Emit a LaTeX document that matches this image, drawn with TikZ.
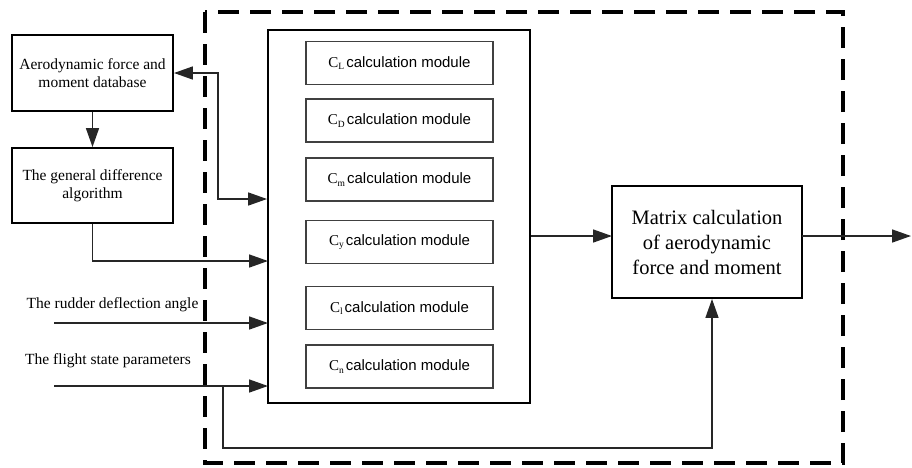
\documentclass[tikz,border=0pt]{standalone}
\usepackage{fontspec}
\setmainfont{Liberation Serif}
\setsansfont{Liberation Sans}
\usetikzlibrary{arrows.meta}
\newcommand{\subsc}[1]{\raisebox{-2.2pt}{\fontsize{9.5}{9.5}\selectfont #1}}
\newcommand{\modtext}[1]{\rmfamily C\subsc{#1}\hspace{2pt}\sffamily calculation module}
\begin{document}
\begin{tikzpicture}[x=1pt,y=-1pt,
  box/.style={draw=black, line width=1.9pt, align=center, inner sep=0pt, font=\fontsize{15.5}{18}\selectfont},
  modbox/.style={draw=black!75, line width=1.4pt, minimum width=187pt, minimum height=43pt, inner sep=0pt, font=\fontsize{15}{18}\selectfont},
  conn/.style={line width=1.6pt, black!85},
  arr/.style={conn, -{Triangle[length=19pt,width=13pt]}},
  dbl/.style={conn, {Triangle[length=19pt,width=13pt]}-{Triangle[length=19pt,width=13pt]}},
  lbl/.style={font=\fontsize{15.5}{18}\selectfont, inner sep=0pt}
]
\useasboundingbox (0,0) rectangle (912,467);

% dashed frame
\draw[line width=3.2pt, dash pattern=on 21pt off 11pt] (205,12) rectangle (843,463);

% left boxes
\node[box, minimum width=161pt, minimum height=76pt] (aero) at (92.5,73) {Aerodynamic force and\\moment database};
\node[box, minimum width=161pt, minimum height=75pt] (gen) at (92.5,185.5) {The general difference\\algorithm};

% big box
\node[draw=black, line width=1.9pt, minimum width=262pt, minimum height=373pt, inner sep=0pt] (big) at (399,216.5) {};

% modules
\node[modbox] (mL) at (399.5,63) {\modtext{L}};
\node[modbox] (mD) at (399.5,120.5) {\modtext{D}};
\node[modbox] (mm) at (399.5,179.5) {\modtext{m}};
\node[modbox] (my) at (399.5,242) {\modtext{y}};
\node[modbox] (ml) at (399.5,308) {\modtext{l}};
\node[modbox] (mn) at (399.5,366.5) {\modtext{n}};

% matrix box
\node[box, minimum width=190pt, minimum height=112pt, font=\fontsize{20.5}{25}\selectfont] (mat) at (707,242) {Matrix calculation\\of aerodynamic\\force and moment};

% labels
\node[lbl] (rl) at (112.5,305) {The rudder deflection angle};
\node[lbl] (fl) at (108,361) {The flight state parameters};

% coordinates
\coordinate (j1) at (218,199);
\coordinate (in2) at (268,261);
\coordinate (rs) at (54,323);
\coordinate (re) at (268,323);
\coordinate (fs) at (54,386);
\coordinate (fe) at (268,386);
\coordinate (fb) at (223,386);
\coordinate (fbd) at (223,448);
\coordinate (mw) at (612,236);
\coordinate (me) at (802,236);
\coordinate (out) at (911,236);

% connectors
\draw[dbl] (aero.east) -| (j1) -- (big.west |- j1);
\draw[arr] (aero.south) -- (gen.north);
\draw[arr] (gen.south) |- (in2);
\draw[arr] (rs) -- (re);
\draw[arr] (fs) -- (fe);
\draw[arr] (fb) -- (fbd) -| ([xshift=5pt]mat.south);
\draw[arr] (big.east |- mw) -- (mw);
\draw[arr] (me) -- (out);
\end{tikzpicture}
\end{document}
